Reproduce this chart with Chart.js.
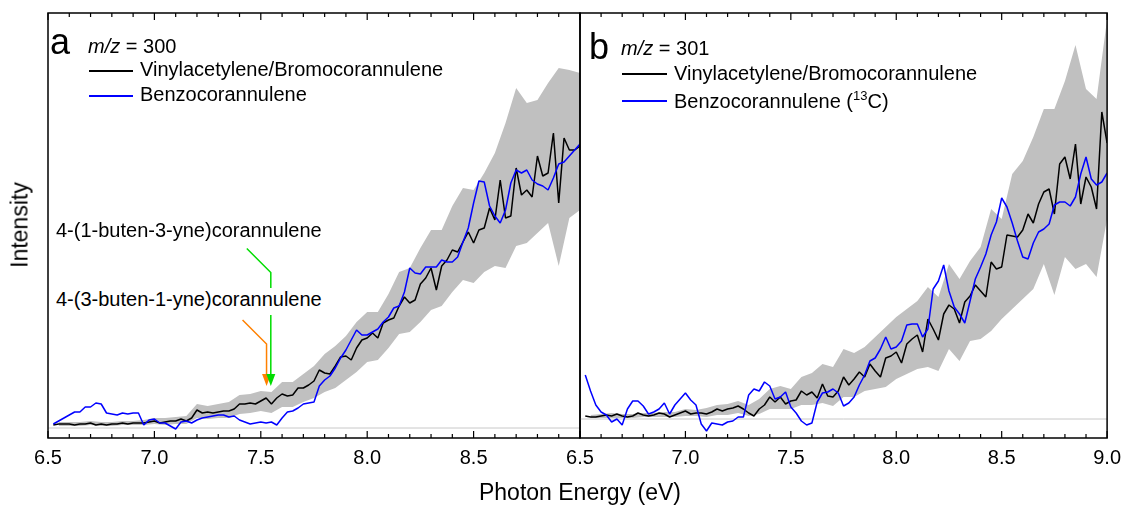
<!DOCTYPE html>
<html>
<head>
<meta charset="utf-8">
<script src="https://cdn.jsdelivr.net/npm/chart.js@4.4.1/dist/chart.umd.min.js"></script>
<style>
  html, body { margin: 0; padding: 0; background: #fff; }
  #wrap { position: relative; width: 1129px; height: 507px; overflow: hidden;
          font-family: "Liberation Sans", Arial, sans-serif; color: #000; }
  canvas { position: absolute; top: 0; }
  #chartA { left: 0; }
  #chartB { left: 540px; }
  .t { position: absolute; white-space: nowrap; line-height: 1; font-size: 20px; }
  .big { font-size: 36px; }
  .title { font-size: 23px; }
  .key { position: absolute; height: 1.5px; width: 44px; }
  .note { background: #fff; padding: 1px 0 6px 0; }
  sup { font-size: 13px; line-height: 0; vertical-align: 8px; }
</style>
</head>
<body>
<div id="wrap">
  <canvas id="chartA" width="620" height="507"></canvas>
  <canvas id="chartB" width="589" height="507"></canvas>

  <div class="t big" style="left:50px;top:24px">a</div>
  <div class="t" style="left:88px;top:36px"><i>m/z</i> = 300</div>
  <div class="key" style="left:89px;top:70px;background:#000000"></div>
  <div class="t" style="left:140px;top:59px">Vinylacetylene/Bromocorannulene</div>
  <div class="key" style="left:89px;top:95px;background:#0000ff"></div>
  <div class="t" style="left:140px;top:84px">Benzocorannulene</div>

  <div class="t big" style="left:589px;top:29px">b</div>
  <div class="t" style="left:621px;top:38px"><i>m/z</i> = 301</div>
  <div class="key" style="left:622px;top:73px;width:45px;background:#000000"></div>
  <div class="t" style="left:674px;top:63px">Vinylacetylene/Bromocorannulene</div>
  <div class="key" style="left:622px;top:100px;width:45px;background:#0000ff"></div>
  <div class="t" style="left:674px;top:91px">Benzocorannulene (<sup>13</sup>C)</div>

  <div class="t" style="left:56px;top:220px">4-(1-buten-3-yne)corannulene</div>
  <div class="t note" style="left:56px;top:288px">4-(3-buten-1-yne)corannulene</div>

  <div class="t title" style="left:580px;top:481px;transform:translateX(-50%)">Photon Energy (eV)</div>
  <div class="t title" style="left:20px;top:225px;transform:translate(-50%,-50%) rotate(-90deg)">Intensity</div>
</div>

<script>
// photon energy grid (eV) for both panels
const energy = [6.525, 6.55, 6.575, 6.6, 6.625, 6.65, 6.675, 6.7, 6.725, 6.75,
  6.775, 6.8, 6.825, 6.85, 6.875, 6.9, 6.925, 6.95, 6.975, 7.0,
  7.025, 7.05, 7.075, 7.1, 7.125, 7.15, 7.175, 7.2, 7.225, 7.25,
  7.275, 7.3, 7.325, 7.35, 7.375, 7.4, 7.425, 7.45, 7.475, 7.5,
  7.525, 7.55, 7.575, 7.6, 7.625, 7.65, 7.675, 7.7, 7.725, 7.75,
  7.775, 7.8, 7.825, 7.85, 7.875, 7.9, 7.925, 7.95, 7.975, 8.0,
  8.025, 8.05, 8.075, 8.1, 8.125, 8.15, 8.175, 8.2, 8.225, 8.25,
  8.275, 8.3, 8.325, 8.35, 8.375, 8.4, 8.425, 8.45, 8.475, 8.5,
  8.525, 8.55, 8.575, 8.6, 8.625, 8.65, 8.675, 8.7, 8.725, 8.75,
  8.775, 8.8, 8.825, 8.85, 8.875, 8.9, 8.925, 8.95, 8.975, 9.0];
// the error band is given on every second energy
const bandEnergy = energy.filter((e, k) => k % 2 === 1);

// panel a, m/z = 300
const blackA = [0.03, 0.04, 0.04, 0.04, 0.03, 0.04, 0.04, 0.05, 0.03, 0.04,
  0.03, 0.04, 0.04, 0.05, 0.04, 0.05, 0.05, 0.05, 0.06, 0.07,
  0.05, 0.06, 0.07, 0.07, 0.09, 0.07, 0.10, 0.18, 0.15, 0.16,
  0.15, 0.16, 0.17, 0.17, 0.19, 0.24, 0.24, 0.25, 0.24, 0.27,
  0.30, 0.24, 0.30, 0.34, 0.32, 0.33, 0.40, 0.40, 0.43, 0.47,
  0.58, 0.55, 0.54, 0.62, 0.71, 0.72, 0.68, 0.80, 0.88, 0.90,
  0.95, 0.90, 1.05, 1.08, 1.10, 1.22, 1.31, 1.25, 1.28, 1.44,
  1.50, 1.60, 1.38, 1.62, 1.68, 1.78, 1.76, 1.86, 1.96, 1.85,
  1.98, 2.00, 2.20, 2.08, 2.48, 2.10, 2.12, 2.60, 2.33, 2.38,
  2.31, 2.72, 2.52, 2.55, 2.95, 2.25, 2.90, 2.78, 2.78, 2.82];
const blueA = [0.04, 0.07, 0.10, 0.13, 0.16, 0.16, 0.21, 0.21, 0.25, 0.24,
  0.15, 0.14, 0.13, 0.15, 0.14, 0.15, 0.15, 0.03, 0.08, 0.09,
  0.05, 0.05, 0.02, -0.01, 0.06, 0.07, 0.05, 0.08, 0.10, 0.11,
  0.12, 0.13, 0.13, 0.11, 0.12, 0.08, 0.06, 0.04, 0.05, 0.06,
  0.05, 0.06, 0.03, 0.10, 0.16, 0.17, 0.20, 0.24, 0.25, 0.26,
  0.42, 0.48, 0.52, 0.60, 0.70, 0.78, 0.88, 0.98, 0.93, 0.93,
  0.96, 0.99, 1.06, 1.11, 1.20, 1.22, 1.36, 1.60, 1.55, 1.54,
  1.61, 1.61, 1.61, 1.68, 1.66, 1.66, 1.71, 1.86, 2.00, 2.25,
  2.47, 2.46, 2.22, 2.12, 2.05, 2.18, 2.45, 2.58, 2.55, 2.58,
  2.48, 2.44, 2.42, 2.38, 2.50, 2.64, 2.66, 2.72, 2.78, 2.84];
const bandLowA = [0.02, 0.02, 0.02, 0.03, 0.02, 0.02, 0.03, 0.03, 0.03, 0.04,
  0.03, 0.04, 0.04, 0.10, 0.09, 0.10, 0.10, 0.14, 0.15, 0.17,
  0.15, 0.21, 0.21, 0.26, 0.30, 0.36, 0.40, 0.48, 0.56, 0.66,
  0.68, 0.80, 0.94, 0.96, 1.06, 1.18, 1.22, 1.36, 1.48, 1.45,
  1.56, 1.62, 1.60, 1.82, 1.85, 1.95, 2.05, 1.62, 2.10, 2.18];
const bandHighA = [0.06, 0.06, 0.06, 0.07, 0.06, 0.06, 0.07, 0.07, 0.08, 0.10,
  0.10, 0.11, 0.12, 0.24, 0.22, 0.24, 0.26, 0.33, 0.34, 0.37,
  0.36, 0.46, 0.46, 0.54, 0.62, 0.74, 0.82, 0.92, 1.06, 1.16,
  1.16, 1.34, 1.56, 1.60, 1.80, 1.98, 1.98, 2.22, 2.40, 2.38,
  2.55, 2.75, 3.05, 3.40, 3.25, 3.28, 3.45, 3.60, 3.58, 3.55];

// panel b, m/z = 301
const blackB = [0.03, 0.02, 0.02, 0.03, 0.04, 0.03, 0.05, 0.03, 0.02, 0.03,
  0.06, 0.04, 0.03, 0.04, 0.06, 0.05, 0.02, 0.04, 0.06, 0.08,
  0.05, 0.06, 0.06, 0.05, 0.07, 0.10, 0.08, 0.10, 0.11, 0.13,
  0.10, 0.06, 0.03, 0.10, 0.14, 0.22, 0.17, 0.22, 0.15, 0.18,
  0.19, 0.28, 0.24, 0.27, 0.21, 0.35, 0.23, 0.22, 0.28, 0.42,
  0.34, 0.40, 0.47, 0.42, 0.55, 0.48, 0.42, 0.61, 0.63, 0.67,
  0.56, 0.75, 0.80, 0.84, 0.67, 1.00, 0.90, 0.79, 1.05, 1.14,
  1.10, 0.96, 1.17, 1.23, 1.34, 1.28, 1.22, 1.57, 1.50, 1.52,
  1.84, 1.83, 1.82, 1.89, 2.05, 1.96, 2.15, 2.27, 2.30, 2.05,
  2.55, 2.62, 2.40, 2.75, 2.15, 2.42, 2.32, 2.10, 3.07, 2.76];
const blueB = [0.44, 0.28, 0.14, 0.07, 0.04, -0.03, 0.00, -0.06, 0.10, 0.18,
  0.18, 0.13, 0.05, 0.07, 0.10, 0.16, 0.05, 0.14, 0.20, 0.26,
  0.19, 0.14, -0.05, -0.12, -0.04, -0.05, -0.06, -0.03, -0.02, 0.02,
  0.02, 0.24, 0.30, 0.28, 0.37, 0.33, 0.20, 0.22, 0.27, 0.12,
  0.06, -0.02, -0.06, -0.04, 0.17, 0.26, 0.27, 0.30, 0.26, 0.13,
  0.16, 0.22, 0.34, 0.44, 0.58, 0.61, 0.70, 0.82, 0.70, 0.72,
  0.78, 0.94, 0.95, 0.95, 0.82, 0.90, 1.30, 1.38, 1.54, 1.28,
  1.12, 1.05, 0.96, 1.18, 1.40, 1.52, 1.65, 1.84, 1.97, 2.21,
  2.12, 1.96, 1.78, 1.62, 1.60, 1.76, 1.87, 1.90, 1.95, 2.14,
  2.17, 2.17, 2.13, 2.22, 2.45, 2.62, 2.40, 2.34, 2.37, 2.46];
const bandLowB = [0.01, 0.01, 0.01, 0.01, 0.01, 0.02, 0.02, 0.02, 0.02, 0.03,
  0.03, 0.02, 0.04, 0.04, 0.06, 0.03, 0.05, 0.10, 0.10, 0.10,
  0.14, 0.14, 0.16, 0.13, 0.22, 0.22, 0.28, 0.30, 0.32, 0.40,
  0.45, 0.50, 0.52, 0.48, 0.70, 0.58, 0.78, 0.80, 0.88, 1.00,
  1.10, 1.20, 1.30, 1.55, 1.24, 1.62, 1.50, 1.55, 1.42, 2.00];
const bandHighB = [0.04, 0.05, 0.06, 0.05, 0.05, 0.06, 0.06, 0.07, 0.07, 0.10,
  0.09, 0.11, 0.14, 0.15, 0.18, 0.14, 0.20, 0.30, 0.33, 0.30,
  0.42, 0.46, 0.55, 0.52, 0.70, 0.66, 0.72, 0.82, 0.92, 1.02,
  1.10, 1.18, 1.32, 1.22, 1.55, 1.40, 1.58, 1.72, 2.10, 2.00,
  2.45, 2.58, 2.82, 3.10, 3.10, 3.38, 3.74, 3.30, 3.20, 4.00];

const majorTicks = [6.5, 7.0, 7.5, 8.0, 8.5, 9.0];
const minorTicks = [6.6, 6.7, 6.8, 6.9, 7.1, 7.2, 7.3, 7.4, 7.6, 7.7, 7.8, 7.9,
  8.1, 8.2, 8.3, 8.4, 8.6, 8.7, 8.8, 8.9];

// arrows in panel a: orange = 4-(3-buten-1-yne), green = 4-(1-buten-3-yne)
const arrowEnergy = [7.527, 7.547];
const arrowKnee = [0.84, 1.555];
const arrowTip = 0.42;
const arrowColor = ['#ff8000', '#00dd00'];

Chart.defaults.font.family = '"Liberation Sans", Arial, sans-serif';
Chart.defaults.color = '#000';

function pts(xs, ys) {
  return xs.map((e, k) => ({ x: e, y: ys[k] }));
}

function drawArrows(chart) {
  const { ctx, scales: { x, y } } = chart;
  arrowEnergy.forEach((e, k) => {
    const px = x.getPixelForValue(e);
    const knee = y.getPixelForValue(arrowKnee[k]);
    const tip = y.getPixelForValue(arrowTip);
    ctx.strokeStyle = arrowColor[k];
    ctx.fillStyle = arrowColor[k];
    ctx.lineWidth = 1.5;
    ctx.beginPath();
    ctx.moveTo(px - 24, knee - 24);
    ctx.lineTo(px, knee);
    ctx.lineTo(px, tip - 10);
    ctx.stroke();
    ctx.beginPath();
    ctx.moveTo(px - 4.5, tip - 12);
    ctx.lineTo(px + 4.5, tip - 12);
    ctx.lineTo(px, tip);
    ctx.closePath();
    ctx.fill();
  });
}

const framePlugin = {
  id: 'frame',
  beforeDatasetsDraw(chart) {
    const { ctx, chartArea: a, scales: { y } } = chart;
    const y0 = y.getPixelForValue(0);
    ctx.save();
    ctx.strokeStyle = '#c8c8c8';
    ctx.lineWidth = 1;
    ctx.beginPath();
    ctx.moveTo(a.left, y0);
    ctx.lineTo(a.right, y0);
    ctx.stroke();
    ctx.restore();
  },
  afterDatasetsDraw(chart, args, opts) {
    const { ctx, chartArea: a, scales: { x } } = chart;
    ctx.save();
    ctx.strokeStyle = '#000';
    ctx.lineWidth = 1.5;
    ctx.strokeRect(a.left, a.top, a.right - a.left, a.bottom - a.top);
    ctx.lineWidth = 1.2;
    ctx.beginPath();
    majorTicks.forEach(v => {
      const px = x.getPixelForValue(v);
      ctx.moveTo(px, a.bottom); ctx.lineTo(px, a.bottom - 7);
      ctx.moveTo(px, a.top); ctx.lineTo(px, a.top + 7);
    });
    minorTicks.forEach(v => {
      const px = x.getPixelForValue(v);
      ctx.moveTo(px, a.bottom); ctx.lineTo(px, a.bottom - 4);
      ctx.moveTo(px, a.top); ctx.lineTo(px, a.top + 4);
    });
    ctx.stroke();
    if (opts.arrows) drawArrows(chart);
    ctx.restore();
  }
};

function makePanel(id, black, blue, low, high, yMin, yMax, pad, lastLabel, arrows) {
  new Chart(document.getElementById(id), {
    type: 'line',
    data: {
      datasets: [
        { data: pts(energy, blue), borderColor: '#0000ff', borderWidth: 1.5 },
        { data: pts(energy, black), borderColor: '#000000', borderWidth: 1.5 },
        { data: pts(bandEnergy, high), borderColor: 'rgba(0,0,0,0)', borderWidth: 0,
          backgroundColor: '#c0c0c0', fill: '+1' },
        { data: pts(bandEnergy, low), borderColor: 'rgba(0,0,0,0)', borderWidth: 0, fill: false }
      ]
    },
    options: {
      responsive: false,
      animation: false,
      devicePixelRatio: 1,
      events: [],
      layout: { padding: pad },
      elements: {
        point: { radius: 0 },
        line: { tension: 0, borderJoinStyle: 'bevel' }
      },
      scales: {
        x: {
          type: 'linear',
          min: 6.5,
          max: 9.0,
          grid: { display: false, drawTicks: false },
          border: { display: false },
          ticks: {
            stepSize: 0.5,
            autoSkip: false,
            maxRotation: 0,
            padding: 8,
            font: { size: 20 },
            color: '#000',
            callback: v => (v === 9 && !lastLabel) ? '' : v.toFixed(1)
          },
          afterFit: s => { s.height = 69; }
        },
        y: { type: 'linear', display: false, min: yMin, max: yMax }
      },
      plugins: {
        legend: { display: false },
        tooltip: { enabled: false },
        frame: { arrows: arrows }
      }
    },
    plugins: [framePlugin]
  });
}

makePanel('chartA', blackA, blueA, bandLowA, bandHighA, -0.10, 4.15,
  { left: 48, right: 40, top: 13, bottom: 0 }, false, true);
makePanel('chartB', blackB, blueB, bandLowB, bandHighB, -0.19, 4.06,
  { left: 40, right: 16, top: 13, bottom: 0 }, true, false);
</script>
</body>
</html>
